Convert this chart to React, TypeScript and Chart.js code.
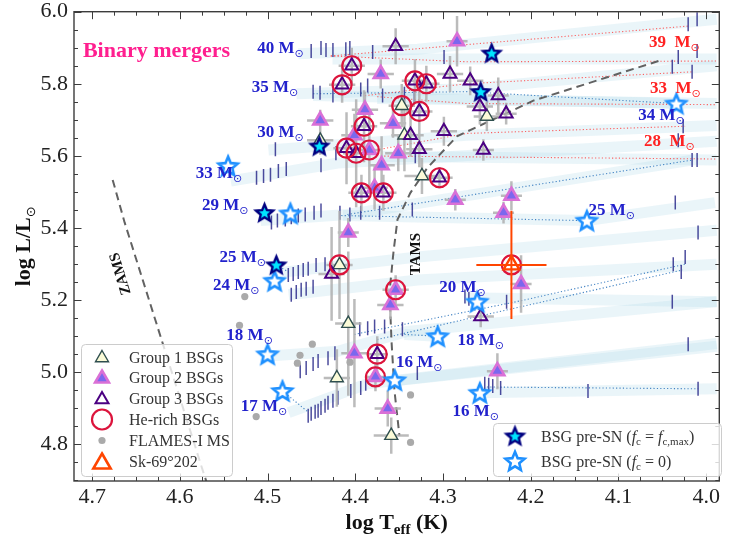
import React, { useEffect, useRef } from "react";
import { Chart, registerables } from "chart.js";
Chart.register(...registerables);

const SERIF = '"Liberation Serif", "Times New Roman", serif';

// axis limits (x reversed: hot on the left)
const X_LIMITS = [4.7207, 3.985];
const Y_LIMITS = [4.697, 6.0];
const X_TICKS = [4.7, 4.6, 4.5, 4.4, 4.3, 4.2, 4.1, 4.0];
const Y_TICKS = [4.8, 5.0, 5.2, 5.4, 5.6, 5.8, 6.0];

// [logTeff, logL, xerr, yerr]
const GROUP1 = [
  [4.440, 5.643, 0.015, 0.04], [4.347, 5.739, 0.015, 0.06], [4.344, 5.657, 0.015, 0.10],
  [4.324, 5.544, 0.02, 0.05], [4.250, 5.709, 0.015, 0.04], [4.418, 5.297, 0.015, 0.15],
  [4.408, 5.134, 0.015, 0.20], [4.421, 4.983, 0.015, 0.08], [4.359, 4.823, 0.02, 0.05],
];
const GROUP2 = [
  [4.284, 5.918, 0.012, 0.07], [4.371, 5.827, 0.015, 0.04], [4.440, 5.698, 0.015, 0.03],
  [4.389, 5.728, 0.015, 0.05], [4.401, 5.657, 0.015, 0.06], [4.357, 5.690, 0.015, 0.04],
  [4.370, 5.574, 0.015, 0.08], [4.351, 5.607, 0.015, 0.05], [4.384, 5.616, 0.015, 0.10],
  [4.286, 5.478, 0.012, 0.03], [4.378, 5.511, 0.015, 0.06], [4.408, 5.387, 0.012, 0.04],
  [4.354, 5.228, 0.015, 0.04], [4.360, 5.186, 0.015, 0.04], [4.401, 5.052, 0.015, 0.15],
  [4.377, 4.986, 0.012, 0.04], [4.363, 4.898, 0.015, 0.05], [4.238, 5.002, 0.012, 0.05],
  [4.211, 5.244, 0.012, 0.08], [4.231, 5.442, 0.012, 0.03], [4.222, 5.489, 0.012, 0.04],
];
const GROUP3 = [
  [4.354, 5.904, 0.015, 0.05], [4.404, 5.850, 0.015, 0.05], [4.415, 5.797, 0.015, 0.05],
  [4.332, 5.808, 0.015, 0.06], [4.319, 5.800, 0.015, 0.05], [4.327, 5.723, 0.015, 0.10],
  [4.292, 5.827, 0.015, 0.05], [4.269, 5.808, 0.015, 0.04], [4.237, 5.767, 0.012, 0.05],
  [4.258, 5.737, 0.015, 0.05], [4.228, 5.717, 0.012, 0.03], [4.390, 5.682, 0.015, 0.10],
  [4.337, 5.657, 0.015, 0.06], [4.299, 5.668, 0.015, 0.04], [4.327, 5.618, 0.015, 0.05],
  [4.410, 5.621, 0.015, 0.10], [4.399, 5.607, 0.015, 0.15], [4.254, 5.616, 0.012, 0.03],
  [4.304, 5.539, 0.015, 0.03], [4.393, 5.497, 0.015, 0.05], [4.368, 5.497, 0.015, 0.05],
  [4.427, 5.272, 0.015, 0.13], [4.257, 5.154, 0.015, 0.03], [4.375, 5.049, 0.012, 0.05],
];
const HE_RICH = [
  [4.404, 5.850], [4.415, 5.797], [4.332, 5.808], [4.319, 5.800], [4.327, 5.723],
  [4.347, 5.739], [4.390, 5.682], [4.410, 5.621], [4.399, 5.607], [4.384, 5.616],
  [4.304, 5.539], [4.393, 5.497], [4.368, 5.497], [4.418, 5.297], [4.354, 5.228],
  [4.375, 5.049], [4.377, 4.986], [4.222, 5.297],
];
const FLAMES_MS = [
  [4.526, 5.209], [4.532, 5.129], [4.449, 5.077], [4.463, 5.046], [4.466, 5.024],
  [4.513, 4.876], [4.406, 5.027], [4.337, 4.936], [4.337, 4.804],
];
// Sk-69 202: [x, y, xerr, yerr]
const SK69 = [4.222, 5.297, 0.04, 0.15];

const PRESN_FCMAX = [
  [4.2445, 5.885], [4.257, 5.778], [4.441, 5.627], [4.5035, 5.442], [4.490, 5.297],
];
const PRESN_FC0 = [
  [4.545, 5.572], [4.474, 5.440], [4.492, 5.253], [4.500, 5.049], [4.483, 4.947],
  [4.355, 4.977], [4.261, 5.195], [4.306, 5.099], [4.258, 4.942], [4.136, 5.420],
  [4.034, 5.745],
];

// evolutionary-track bands
const BANDS = [
  [[4.465, 5.883], [4.329, 5.896], [3.988, 5.979]],
  [[4.426, 5.869], [3.988, 5.869]],
  [[4.467, 5.772], [4.273, 5.786], [3.988, 5.850]],
  [[4.448, 5.767], [4.034, 5.745]],
  [[4.375, 5.759], [3.988, 5.745]],
  [[4.499, 5.616], [4.273, 5.657], [3.988, 5.684]],
  [[4.369, 5.599], [3.988, 5.588]],
  [[4.542, 5.530], [4.420, 5.580], [3.988, 5.640]],
  [[4.508, 5.420], [4.409, 5.437], [4.016, 5.588]],
  [[4.414, 5.434], [4.136, 5.420]],
  [[4.482, 5.277], [4.329, 5.319], [3.988, 5.393]],
  [[4.476, 5.214], [4.329, 5.255], [3.988, 5.299]],
  [[4.499, 5.044], [4.420, 5.057], [4.341, 5.112], [3.988, 5.195]],
  [[4.476, 4.887], [4.386, 4.967], [3.988, 5.079]],
  [[4.355, 4.975], [3.988, 5.071]],
  [[4.275, 5.206], [3.988, 5.195]],
  [[4.258, 4.942], [3.988, 4.953]],
  [[4.344, 5.104], [4.306, 5.099]],
  [[4.136, 5.420], [3.990, 5.470]],
];
const RED_TRACKS = [
  [[4.428, 5.877], [4.021, 5.960]],
  [[4.428, 5.877], [4.273, 5.861], [3.988, 5.863]],
  [[4.389, 5.767], [4.273, 5.800], [4.016, 5.833]],
  [[4.375, 5.764], [4.273, 5.745], [3.988, 5.742]],
  [[4.383, 5.613], [4.273, 5.662], [4.024, 5.682]],
  [[4.367, 5.599], [3.988, 5.591]],
];
const BLUE_TRACKS = [
  [[4.448, 5.772], [4.273, 5.778], [4.034, 5.745]],
  [[4.416, 5.434], [4.140, 5.420]],
  [[4.409, 5.437], [4.016, 5.588]],
  [[4.344, 5.104], [4.306, 5.099]],
  [[4.401, 5.104], [4.216, 5.195], [4.024, 5.299]],
  [[4.375, 5.090], [4.027, 5.283]],
  [[4.250, 4.958], [4.009, 4.953]],
  [[4.483, 4.947], [4.454, 4.889]],
  [[4.490, 5.297], [4.476, 5.277]],
];
const TRACK_TICKS = [
  [4.4503, 5.891], [4.4391, 5.899], [4.4334, 5.894], [4.4255, 5.894], [4.4108, 5.896], [4.4062, 5.899],
  [4.3802, 5.888], [4.2988, 5.874], [4.0205, 5.965], [4.0103, 5.979],
  [4.4481, 5.778], [4.4402, 5.775], [4.4255, 5.767], [4.3938, 5.784], [4.3859, 5.795], [4.3689, 5.767],
  [4.3440, 5.772], [4.3327, 5.764], [4.0318, 5.874], [4.0103, 5.891], [4.0386, 5.847], [4.0160, 5.833],
  [4.4911, 5.618], [4.4391, 5.574], [4.4221, 5.607], [4.3316, 5.599], [4.0262, 5.682], [4.0318, 5.643],
  [4.0160, 5.588], [4.0103, 5.588],
  [4.5126, 5.539], [4.5046, 5.544], [4.4967, 5.547], [4.4877, 5.558], [4.4787, 5.563],
  [4.4956, 5.415], [4.4888, 5.420], [4.4798, 5.423], [4.4730, 5.429], [4.4650, 5.434], [4.4571, 5.437],
  [4.4470, 5.442], [4.4391, 5.448], [4.4175, 5.442], [4.4062, 5.437], [4.3938, 5.442], [4.3723, 5.442],
  [4.3350, 5.451], [4.0352, 5.470], [4.0092, 5.387],
  [4.4764, 5.269], [4.4708, 5.272], [4.4650, 5.277], [4.4594, 5.283], [4.4537, 5.286], [4.4447, 5.297],
  [4.4345, 5.299], [4.4730, 5.214], [4.4673, 5.222], [4.4617, 5.228], [4.4560, 5.231], [4.4481, 5.236],
  [4.0239, 5.319], [4.0375, 5.299], [4.0284, 5.277],
  [4.4628, 5.002], [4.4560, 5.011], [4.4481, 5.022], [4.4424, 5.030], [4.4311, 5.038], [4.4232, 5.052],
  [4.3949, 5.118], [4.3859, 5.121], [4.3780, 5.126], [4.3666, 5.126], [4.3463, 5.118], [4.0386, 5.195],
  [4.0205, 5.077],
  [4.4537, 4.878], [4.4503, 4.884], [4.4458, 4.889], [4.4424, 4.892], [4.4391, 4.900], [4.4345, 4.906],
  [4.4311, 4.914], [4.4255, 4.920], [4.4198, 4.928], [4.4051, 4.947], [4.3938, 4.955], [4.3881, 4.967],
  [4.3293, 4.997],
  [4.2524, 4.967], [4.2479, 4.964], [4.2433, 4.961], [4.2343, 4.955], [4.1347, 4.947], [4.0092, 4.953],
  [4.2750, 5.209], [4.2705, 5.203], [4.2592, 5.200], [4.2275, 5.195],
];
const ZAMS = [[4.6766, 5.533], [4.6630, 5.415], [4.5748, 4.733], [4.5690, 4.690]];
const TAMS = [
  [4.0544, 5.863], [4.1970, 5.753], [4.2841, 5.654], [4.3180, 5.566], [4.3372, 5.497],
  [4.3519, 5.423], [4.3565, 5.332], [4.3610, 5.222], [4.3587, 5.085], [4.3553, 4.947],
  [4.3497, 4.823],
];
// [x, y, mass, colour key]
const MASS_LABELS = [
  [4.4854, 5.902, "40", "b"], [4.4916, 5.795, "35", "b"], [4.4854, 5.668, "30", "b"],
  [4.5555, 5.555, "33", "b"], [4.5482, 5.467, "29", "b"], [4.5284, 5.321, "25", "b"],
  [4.5358, 5.244, "24", "b"], [4.5205, 5.104, "18", "b"], [4.5041, 4.909, "17", "b"],
  [4.3270, 5.030, "16", "b"], [4.2778, 5.239, "20", "b"], [4.2569, 5.090, "18", "b"],
  [4.2626, 4.895, "16", "b"], [4.1076, 5.453, "25", "b"], [4.0510, 5.715, "34", "b"],
  [4.0363, 5.918, "39", "r"], [4.0352, 5.792, "33", "r"], [4.0420, 5.643, "28", "r"],
];
const MERGER_TEXT = { x: 4.7105, y: 5.894, text: "Binary mergers" };
const ZAMS_TEXT = { x: 4.6687, y: 5.272, text: "ZAMS", angle: -107 };
const TAMS_TEXT = { x: 4.3316, y: 5.327, text: "TAMS", angle: -90 };
const LEGEND_LEFT = ["Group 1 BSGs", "Group 2 BSGs", "Group 3 BSGs", "He-rich BSGs", "FLAMES-I MS", "Sk-69\u00b0202"];

const BLUE = "#2222cc";
const RED = "#ff2222";

function makeStar(R: number, fill: string, stroke: string, lw: number) {
  const s = Math.ceil(2 * R + 2 * lw + 4);
  const c = document.createElement("canvas");
  c.width = s;
  c.height = s;
  const g = c.getContext("2d")!;
  g.translate(s / 2, s / 2 + R * 0.08);
  g.beginPath();
  for (let i = 0; i < 10; i++) {
    const r = i % 2 === 0 ? R : R * 0.45;
    const a = -Math.PI / 2 + (i * Math.PI) / 5;
    g.lineTo(r * Math.cos(a), r * Math.sin(a));
  }
  g.closePath();
  g.fillStyle = fill;
  g.fill();
  g.lineJoin = "miter";
  g.lineWidth = lw;
  g.strokeStyle = stroke;
  g.stroke();
  return c;
}

type Seg = { t: string; font: string; dy?: number };
function drawRich(ctx: CanvasRenderingContext2D, segs: Seg[], x: number, y: number, align: string) {
  let w = 0;
  for (const s of segs) {
    ctx.font = s.font;
    w += ctx.measureText(s.t).width;
  }
  let cx = align === "center" ? x - w / 2 : x;
  ctx.textAlign = "left";
  ctx.textBaseline = "alphabetic";
  for (const s of segs) {
    ctx.font = s.font;
    ctx.fillText(s.t, cx, y + (s.dy || 0));
    cx += ctx.measureText(s.t).width;
  }
}

function tri(ctx, x, y, r, fill, stroke, lw) {
  ctx.beginPath();
  ctx.moveTo(x, y - r);
  ctx.lineTo(x + 0.866 * r, y + 0.5 * r);
  ctx.lineTo(x - 0.866 * r, y + 0.5 * r);
  ctx.closePath();
  if (fill) {
    ctx.fillStyle = fill;
    ctx.fill();
  }
  ctx.lineJoin = "miter";
  ctx.lineWidth = lw;
  ctx.strokeStyle = stroke;
  ctx.stroke();
}

function circ(ctx, x, y, r, fill, stroke, lw) {
  ctx.beginPath();
  ctx.arc(x, y, r, 0, Math.PI * 2);
  if (fill) {
    ctx.fillStyle = fill;
    ctx.fill();
  }
  if (stroke) {
    ctx.lineWidth = lw;
    ctx.strokeStyle = stroke;
    ctx.stroke();
  }
}

function box(ctx, x, y, w, h) {
  ctx.beginPath();
  ctx.roundRect(x, y, w, h, 4);
  ctx.fillStyle = "rgba(255,255,255,0.8)";
  ctx.fill();
  ctx.strokeStyle = "#cccccc";
  ctx.lineWidth = 1;
  ctx.stroke();
}

const pts = (arr) => arr.map((p) => ({ x: p[0], y: p[1] }));

export default function App() {
  const ref = useRef<HTMLCanvasElement>(null);
  useEffect(() => {
    const starMax = makeStar(9, "#00e5ff", "#000080", 2.4);
    const star0 = makeStar(10, "#ffffff", "#1e90ff", 2.6);

    const errPts: any[] = [];
    for (const [x, y, xe, ye] of [...GROUP1, ...GROUP2, ...GROUP3]) {
      errPts.push({ x: x - xe, y }, { x: x + xe, y }, { x: NaN, y: NaN });
      errPts.push({ x, y: y - ye }, { x, y: y + ye }, { x: NaN, y: NaN });
    }
    const [sx, sy, sxe, sye] = SK69;
    const skErr = [
      { x: sx - sxe, y: sy }, { x: sx + sxe, y: sy }, { x: NaN, y: NaN },
      { x: sx, y: sy - sye }, { x: sx, y: sy + sye },
    ];

    const lineDs = (arr, color, width, dash, order) => ({
      data: pts(arr),
      showLine: true,
      borderColor: color,
      borderWidth: width,
      borderDash: dash,
      pointRadius: 0,
      fill: false,
      tension: 0,
      order,
    });

    const datasets: any[] = [];
    BANDS.forEach((b) => datasets.push({ ...lineDs(b, "rgba(173,216,230,0.26)", 11, [], 100), borderCapStyle: "butt" }));
    RED_TRACKS.forEach((b) => datasets.push(lineDs(b, "rgba(255,70,70,0.85)", 1.1, [1.2, 2.2], 90)));
    BLUE_TRACKS.forEach((b) => datasets.push(lineDs(b, "rgba(50,120,190,0.9)", 1.1, [1.2, 2.2], 90)));
    datasets.push({
      data: pts(TRACK_TICKS),
      pointStyle: "line",
      pointRotation: 90,
      pointRadius: 7,
      pointBorderColor: "rgba(45,45,140,0.85)",
      pointBorderWidth: 1.5,
      order: 80,
    });
    datasets.push(lineDs(ZAMS, "rgba(90,90,90,0.95)", 2, [8, 5], 70));
    datasets.push(lineDs(TAMS, "rgba(90,90,90,0.95)", 2, [8, 5], 70));
    datasets.push({ ...lineDs([], "rgba(175,175,175,0.85)", 2.5, [], 60), data: errPts });
    datasets.push({
      data: pts(FLAMES_MS), pointStyle: "circle", pointRadius: 3.6,
      pointBackgroundColor: "#aaaaaa", pointBorderColor: "#aaaaaa", pointBorderWidth: 0, order: 50,
    });
    datasets.push({
      data: pts(GROUP1), pointStyle: "triangle", pointRadius: 7.5,
      pointBackgroundColor: "#fbfbd8", pointBorderColor: "#2f4f4f", pointBorderWidth: 1.4, order: 45,
    });
    datasets.push({
      data: pts(GROUP2), pointStyle: "triangle", pointRadius: 8,
      pointBackgroundColor: "#7b68ee", pointBorderColor: "#da70d6", pointBorderWidth: 2.6, order: 44,
    });
    datasets.push({
      data: pts(GROUP3), pointStyle: "triangle", pointRadius: 7.5,
      pointBackgroundColor: "rgba(0,0,0,0)", pointBorderColor: "#4b0082", pointBorderWidth: 2, order: 43,
    });
    datasets.push({
      data: pts(HE_RICH), pointStyle: "circle", pointRadius: 9.5,
      pointBackgroundColor: "rgba(0,0,0,0)", pointBorderColor: "#dc143c", pointBorderWidth: 2.2, order: 40,
    });
    datasets.push({ data: pts(PRESN_FC0), pointStyle: star0, pointRadius: 10, order: 31 });
    datasets.push({ data: pts(PRESN_FCMAX), pointStyle: starMax, pointRadius: 10, order: 30 });
    datasets.push({ ...lineDs([], "#ff4500", 2, [], 25), data: skErr });
    datasets.push({
      data: pts([SK69]), pointStyle: "triangle", pointRadius: 9,
      pointBackgroundColor: "rgba(0,0,0,0)", pointBorderColor: "#ff4500", pointBorderWidth: 2.4, order: 20,
    });

    const overlay = {
      id: "overlay",
      afterDatasetsDraw(chart) {
        const { ctx, chartArea: a } = chart;
        const X = (v) => chart.scales.x.getPixelForValue(v);
        const Y = (v) => chart.scales.y.getPixelForValue(v);
        ctx.save();

        // mass labels
        for (const [x, y, m, c] of MASS_LABELS as any[]) {
          ctx.fillStyle = c === "r" ? RED : BLUE;
          const gap = c === "r" ? "\u2002" : " ";
          drawRich(
            ctx,
            [
              { t: m + gap + "M", font: `bold 17px ${SERIF}` },
              { t: "\u2299", font: `11px "DejaVu Sans"`, dy: 4 },
            ],
            X(x), Y(y) + 6, "center"
          );
        }
        ctx.fillStyle = "#ff1f8f";
        drawRich(ctx, [{ t: MERGER_TEXT.text, font: `bold 22px ${SERIF}` }], X(MERGER_TEXT.x), Y(MERGER_TEXT.y) + 7, "left");

        for (const T of [ZAMS_TEXT, TAMS_TEXT]) {
          ctx.save();
          ctx.translate(X(T.x), Y(T.y));
          ctx.rotate((T.angle * Math.PI) / 180);
          ctx.fillStyle = "#111";
          drawRich(ctx, [{ t: T.text, font: `bold 15px ${SERIF}` }], 0, 5, "center");
          ctx.restore();
        }

        // frame and inward ticks
        ctx.strokeStyle = "#3c3c3c";
        ctx.lineWidth = 1;
        ctx.beginPath();
        const xt = (v, len) => {
          const p = Math.round(X(v)) + 0.5;
          ctx.moveTo(p, a.bottom); ctx.lineTo(p, a.bottom - len);
          ctx.moveTo(p, a.top); ctx.lineTo(p, a.top + len);
        };
        const yt = (v, len) => {
          const p = Math.round(Y(v)) + 0.5;
          ctx.moveTo(a.left, p); ctx.lineTo(a.left + len, p);
          ctx.moveTo(a.right, p); ctx.lineTo(a.right - len, p);
        };
        X_TICKS.forEach((v) => xt(v, 7.5));
        for (let k = 0; k < 40; k++) {
          const v = 4.75 - k * 0.025;
          if (v < X_LIMITS[0] && v > X_LIMITS[1] && Math.abs(v * 10 - Math.round(v * 10)) > 0.01) xt(v, 4);
        }
        Y_TICKS.forEach((v) => yt(v, 7.5));
        for (let k = 0; k < 40; k++) {
          const v = 4.65 + k * 0.05;
          if (v > Y_LIMITS[0] && v < Y_LIMITS[1] && Math.abs(v * 5 - Math.round(v * 5)) > 0.01) yt(v, 4);
        }
        ctx.stroke();
        ctx.lineWidth = 1.4;
        ctx.strokeRect(a.left, a.top, a.right - a.left, a.bottom - a.top);

        // left legend
        box(ctx, 81.5, 344.5, 151, 132);
        const rows = [357, 377.5, 398.5, 419.5, 440.5, 461.5];
        const mx = 102;
        tri(ctx, mx, rows[0] + 1, 7.5, "#fbfbd8", "#2f4f4f", 1.4);
        tri(ctx, mx, rows[1] + 1, 8, "#7b68ee", "#da70d6", 2.6);
        tri(ctx, mx, rows[2] + 1, 7.5, null, "#4b0082", 2);
        circ(ctx, mx, rows[3], 10, null, "#dc143c", 2.2);
        circ(ctx, mx, rows[4], 3.6, "#aaaaaa", null, 0);
        tri(ctx, mx, rows[5] + 2, 10, null, "#ff4500", 2.6);
        ctx.fillStyle = "#333";
        LEGEND_LEFT.forEach((t, i) => drawRich(ctx, [{ t, font: `16px ${SERIF}` }], 129, rows[i] + 5.5, "left"));

        // right legend
        box(ctx, 493.5, 423.5, 228, 53);
        ctx.drawImage(starMax, 515 - starMax.width / 2, 436 - starMax.height / 2);
        ctx.drawImage(star0, 515 - star0.width / 2, 461 - star0.height / 2);
        ctx.fillStyle = "#333";
        const f = `16px ${SERIF}`, fi = `italic 16px ${SERIF}`, fs = `11px ${SERIF}`;
        drawRich(ctx, [
          { t: "BSG pre-SN (", font: f }, { t: "f", font: fi }, { t: "c", font: fs, dy: 3 },
          { t: " = ", font: f }, { t: "f", font: fi }, { t: "c,max", font: fs, dy: 3 }, { t: ")", font: f },
        ], 541, 441.5, "left");
        drawRich(ctx, [
          { t: "BSG pre-SN (", font: f }, { t: "f", font: fi }, { t: "c", font: fs, dy: 3 },
          { t: " = 0)", font: f },
        ], 541, 466.5, "left");

        // axis titles
        ctx.fillStyle = "#111";
        drawRich(ctx, [
          { t: "log T", font: `bold 22px ${SERIF}` },
          { t: "eff", font: `bold 15px ${SERIF}`, dy: 5 },
          { t: " (K)", font: `bold 22px ${SERIF}` },
        ], (a.left + a.right) / 2, 529, "center");
        ctx.save();
        ctx.translate(22, (a.top + a.bottom) / 2);
        ctx.rotate(-Math.PI / 2);
        drawRich(ctx, [
          { t: "log L/L", font: `bold 22px ${SERIF}` },
          { t: "\u2299", font: `13px "DejaVu Sans"`, dy: 5 },
        ], 0, 8, "center");
        ctx.restore();
        ctx.restore();
      },
    };

    const chart = new Chart(ref.current!, {
      type: "scatter",
      data: { datasets },
      options: {
        responsive: false,
        animation: false,
        devicePixelRatio: 1,
        events: [],
        layout: { padding: { left: 0, right: 7, top: 7, bottom: 0 } },
        plugins: { legend: { display: false }, tooltip: { enabled: false } },
        scales: {
          x: {
            type: "linear",
            reverse: true,
            min: X_LIMITS[1],
            max: X_LIMITS[0],
            grid: { display: false, drawTicks: false },
            border: { display: false },
            ticks: {
              font: { family: SERIF, size: 22 },
              color: "#222",
              padding: 3,
              maxRotation: 0,
              autoSkip: false,
              callback: (v) => Number(v).toFixed(1),
            },
            afterBuildTicks: (s) => {
              s.ticks = X_TICKS.map((v) => ({ value: v }));
            },
            afterFit: (s) => {
              s.height = 64;
              s.paddingLeft = 0;
              s.paddingRight = 0;
            },
          },
          y: {
            type: "linear",
            min: Y_LIMITS[0],
            max: Y_LIMITS[1],
            grid: { display: false, drawTicks: false },
            border: { display: false },
            ticks: {
              font: { family: SERIF, size: 22 },
              color: "#222",
              padding: 6,
              autoSkip: false,
              callback: (v) => Number(v).toFixed(1),
            },
            afterBuildTicks: (s) => {
              s.ticks = Y_TICKS.map((v) => ({ value: v }));
            },
            afterFit: (s) => {
              s.width = 74;
              s.paddingTop = 0;
              s.paddingBottom = 0;
            },
          },
        },
      },
      plugins: [overlay],
    });
    return () => chart.destroy();
  }, []);

  return (
    <div style={{ position: "fixed", left: 0, top: 0, width: 731, height: 545, background: "#fff" }}>
      <canvas ref={ref} width={731} height={545} style={{ display: "block", width: 731, height: 545 }} />
    </div>
  );
}
